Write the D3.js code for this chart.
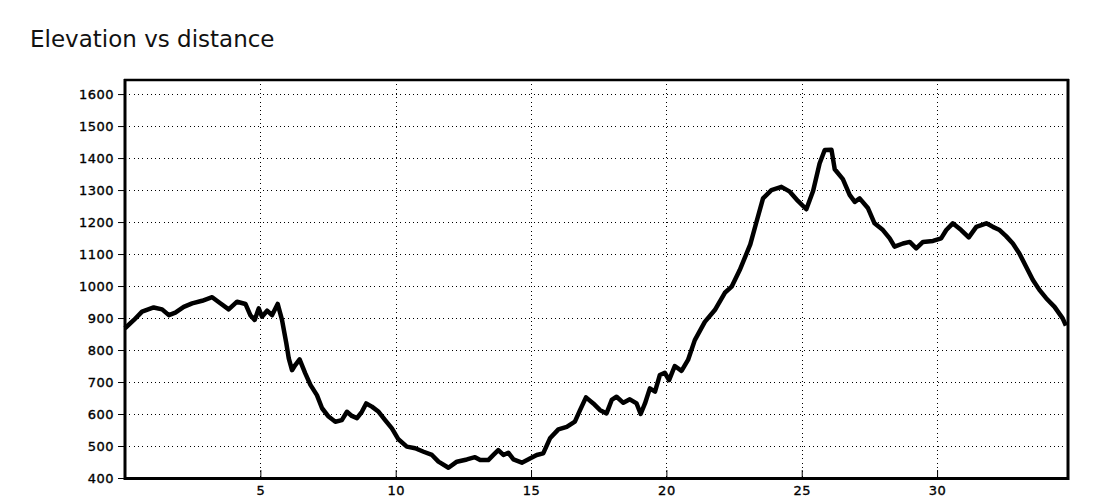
<!DOCTYPE html>
<html>
<head>
<meta charset="utf-8">
<script src="https://cdn.jsdelivr.net/npm/d3@7"></script>
<style>
  html, body { margin: 0; padding: 0; background: #fff; }
  svg { display: block; }
</style>
</head>
<body>
<script>
const titleText = "Elevation vs distance";
const distanceKm = [0.00,0.33,0.63,1.06,1.37,1.62,1.86,2.17,2.48,2.85,3.22,3.52,3.83,4.14,4.45,4.63,4.79,4.94,5.06,5.25,5.43,5.64,5.80,5.96,6.05,6.17,6.29,6.45,6.66,6.85,7.09,7.28,7.52,7.77,8.01,8.20,8.38,8.57,8.75,8.91,9.12,9.37,9.61,9.86,10.10,10.41,10.72,11.03,11.34,11.58,11.95,12.26,12.63,12.93,13.12,13.42,13.61,13.79,13.98,14.16,14.35,14.66,14.96,15.21,15.45,15.70,16.01,16.32,16.62,16.81,17.03,17.30,17.55,17.79,17.98,18.16,18.41,18.65,18.90,19.05,19.21,19.39,19.58,19.76,19.94,20.10,20.31,20.56,20.80,21.05,21.42,21.79,22.16,22.41,22.71,23.10,23.33,23.57,23.88,24.25,24.56,24.86,25.17,25.42,25.66,25.85,26.10,26.22,26.52,26.77,26.96,27.14,27.45,27.69,28.00,28.25,28.43,28.74,28.99,29.23,29.48,29.85,30.15,30.34,30.58,30.89,31.17,31.45,31.82,32.06,32.31,32.55,32.80,33.04,33.29,33.54,33.78,34.03,34.34,34.64,34.76];
const elevationM = [868,894,920,933,927,909,917,935,946,954,965,946,927,951,944,909,894,930,904,923,909,944,894,821,774,737,753,771,727,691,659,618,592,576,581,607,594,587,607,633,623,607,581,555,521,498,493,482,472,451,432,451,458,465,456,456,472,487,472,479,458,448,461,472,477,524,552,560,576,612,652,633,612,602,644,654,635,646,633,600,633,680,670,722,729,706,750,735,769,831,888,925,979,998,1050,1130,1201,1274,1300,1310,1295,1266,1240,1297,1383,1425,1426,1365,1334,1285,1263,1274,1243,1196,1175,1149,1123,1133,1138,1118,1138,1141,1149,1175,1196,1175,1152,1185,1196,1185,1175,1156,1133,1102,1060,1019,988,962,935,899,876];
const yTicks = [400,500,600,700,800,900,1000,1100,1200,1300,1400,1500,1600];
const xTicks = [5,10,15,20,25,30];
const xDomain = [0, 34.8];
const yDomain = [400, 1644];

const W = 1100, H = 500;
const plot = {left: 125, right: 1067, top: 80, bottom: 478};

const svg = d3.select("body").append("svg").attr("width", W).attr("height", H);
svg.append("rect").attr("width", W).attr("height", H).attr("fill", "#fff");

const x = d3.scaleLinear().domain(xDomain).range([plot.left, plot.right]);
const y = d3.scaleLinear().domain(yDomain).range([plot.bottom, plot.top]);

svg.append("text").attr("x", 30).attr("y", 47)
  .attr("font-family", "DejaVu Sans").attr("font-size", 23).attr("fill", "#111")
  .text(titleText);

// grid
const grid = svg.append("g").attr("stroke", "#000").attr("stroke-width", 1)
  .attr("stroke-dasharray", "1,3.3").attr("shape-rendering", "crispEdges");
grid.selectAll("line.h").data(yTicks.filter(d => d > 400)).enter().append("line")
  .attr("x1", plot.left).attr("x2", plot.right)
  .attr("y1", d => Math.round(y(d)) + 0.5).attr("y2", d => Math.round(y(d)) + 0.5);
grid.selectAll("line.v").data(xTicks).enter().append("line")
  .attr("y1", plot.top).attr("y2", plot.bottom)
  .attr("x1", d => Math.round(x(d)) + 0.5).attr("x2", d => Math.round(x(d)) + 0.5);

// y axis
const yAxis = d3.axisLeft(y).tickValues(yTicks).tickSize(7).tickPadding(4).tickFormat(d3.format("d"));
const gy = svg.append("g").attr("transform", `translate(${plot.left},0)`).call(yAxis);
gy.select(".domain").remove();
gy.selectAll("text").attr("font-family", "DejaVu Sans").attr("font-size", 13)
  .attr("letter-spacing", "0.5px")
  .attr("fill", "#000").attr("stroke", "#000").attr("stroke-width", 0.35);
gy.selectAll("line").attr("stroke", "#000");

// x axis (ticks pointing up inside)
const xAxis = d3.axisBottom(x).tickValues(xTicks).tickSize(-8).tickPadding(14).tickFormat(d3.format("d"));
const gx = svg.append("g").attr("transform", `translate(0,${plot.bottom})`).call(xAxis);
gx.select(".domain").remove();
gx.selectAll("text").attr("font-family", "DejaVu Sans").attr("font-size", 13)
  .attr("letter-spacing", "0.5px")
  .attr("fill", "#000").attr("stroke", "#000").attr("stroke-width", 0.35).attr("dy", "0.2em");
gx.selectAll("line").attr("stroke", "#000");

// frame
const frame = svg.append("g").attr("stroke", "#000").attr("fill", "none");
frame.append("line").attr("x1", plot.left - 1).attr("x2", plot.right + 2).attr("y1", plot.top).attr("y2", plot.top).attr("stroke-width", 2.5);
frame.append("line").attr("x1", plot.left - 1).attr("x2", plot.right + 2).attr("y1", plot.bottom + 0.5).attr("y2", plot.bottom + 0.5).attr("stroke-width", 3);
frame.append("line").attr("x1", plot.left).attr("x2", plot.left).attr("y1", plot.top - 1).attr("y2", plot.bottom + 2).attr("stroke-width", 3);
frame.append("line").attr("x1", plot.right + 1).attr("x2", plot.right + 1).attr("y1", plot.top - 1).attr("y2", plot.bottom + 2).attr("stroke-width", 3);

// elevation line
const pts = distanceKm.map((d, i) => [d, elevationM[i]]);
const line = d3.line().x(d => x(d[0])).y(d => y(d[1]));
svg.append("path").datum(pts).attr("d", line)
  .attr("fill", "none").attr("stroke", "#000").attr("stroke-width", 4.5)
  .attr("stroke-linejoin", "round").attr("stroke-linecap", "butt");
</script>
</body>
</html>
